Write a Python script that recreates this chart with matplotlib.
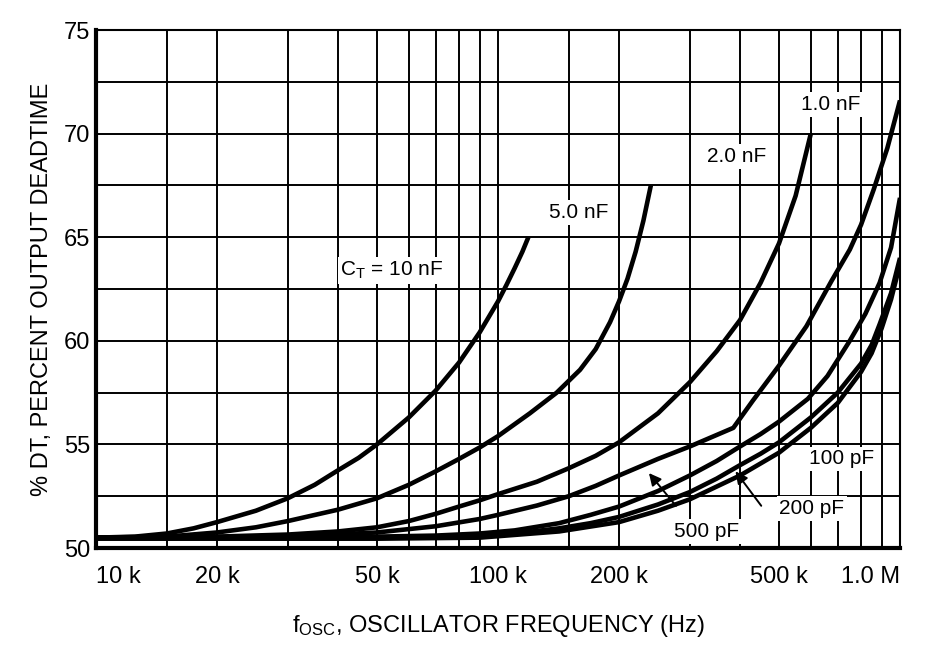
import matplotlib
matplotlib.use("Agg")
import matplotlib.pyplot as plt
from matplotlib.ticker import FixedLocator, NullFormatter

plt.rcParams['font.family'] = ['Liberation Sans Narrow', 'Liberation Sans', 'DejaVu Sans']
plt.rcParams['mathtext.default'] = 'regular'

# frequency in kHz, deadtime in %
f_10n = [10, 12.5, 15, 17.5, 20, 25, 30, 35, 40, 45, 50, 60, 70, 80, 90, 100, 105, 110, 115, 119]
dt_10n = [50.5, 50.55, 50.7, 50.95, 51.25, 51.8, 52.4, 53.05, 53.75, 54.35, 55.0, 56.3, 57.6, 58.95,
          60.4, 61.9, 62.7, 63.5, 64.3, 65.0]

f_5n = [10, 15, 20, 25, 30, 40, 50, 60, 70, 80, 90, 100, 120, 140, 160, 175, 190, 200, 210, 220, 230, 240]
dt_5n = [50.5, 50.55, 50.75, 51.0, 51.3, 51.85, 52.4, 53.05, 53.7, 54.3, 54.85, 55.4, 56.5, 57.5,
         58.6, 59.6, 60.9, 61.9, 63.0, 64.3, 65.8, 67.5]

f_2n = [10, 20, 30, 40, 50, 60, 70, 80, 90, 100, 125, 150, 175, 200, 250, 300, 350, 400, 450, 500, 550, 600]
dt_2n = [50.5, 50.55, 50.65, 50.8, 51.0, 51.3, 51.65, 52.0, 52.3, 52.6, 53.2, 53.85, 54.45, 55.1,
         56.5, 58.0, 59.5, 61.0, 62.8, 64.7, 67.0, 70.0]

f_1n = [10, 30, 50, 70, 90, 100, 125, 150, 175, 200, 250, 300, 385, 430, 500, 585, 676, 750, 800,
        860, 930, 1000]
dt_1n = [50.5, 50.55, 50.75, 51.05, 51.4, 51.6, 52.05, 52.5, 53.0, 53.5, 54.3, 54.9, 55.8, 57.1,
         58.8, 60.7, 62.9, 64.4, 65.6, 67.3, 69.3, 71.6]

f_500p = [10, 50, 70, 90, 110, 142, 170, 200, 250, 300, 350, 400, 450, 500, 590, 660, 750, 820,
          890, 950, 1000]
dt_500p = [50.5, 50.55, 50.6, 50.7, 50.85, 51.2, 51.6, 52.0, 52.75, 53.5, 54.2, 54.9, 55.5, 56.1,
           57.2, 58.3, 60.0, 61.3, 62.8, 64.5, 66.9]

f_200p = [10, 50, 90, 110, 142, 170, 200, 250, 300, 350, 400, 450, 500, 600, 700, 800, 850, 890,
          950, 1000]
dt_200p = [50.5, 50.5, 50.55, 50.7, 50.95, 51.2, 51.5, 52.1, 52.7, 53.35, 54.0, 54.55, 55.1, 56.3,
           57.5, 58.9, 59.8, 60.8, 62.3, 64.0]

f_100p = [10, 50, 90, 142, 200, 250, 300, 400, 500, 600, 700, 800, 850, 900, 950, 1000]
dt_100p = [50.45, 50.45, 50.5, 50.8, 51.25, 51.8, 52.35, 53.5, 54.6, 55.8, 57.0, 58.5, 59.4, 60.6,
           62.0, 63.7]

curves = [(f_10n, dt_10n), (f_5n, dt_5n), (f_2n, dt_2n), (f_1n, dt_1n),
          (f_500p, dt_500p), (f_200p, dt_200p), (f_100p, dt_100p)]

tick_freqs = [10, 20, 50, 100, 200, 500, 1000]
tick_labels = ['10 k', '20 k', '50 k', '100 k', '200 k', '500 k', '1.0 M']
grid_freqs = [15, 30, 40, 60, 70, 80, 90, 150, 300, 400, 600, 700, 800, 900]

fig = plt.figure(figsize=(9.38, 6.48), dpi=100)
ax = fig.add_axes([0.1023, 0.1543, 0.8572, 0.7994])

for f, dt in curves:
    ax.plot(f, dt, color='black', lw=3.3, solid_capstyle='butt', solid_joinstyle='round', zorder=3)

ax.set_xscale('log')
ax.set_xlim(10, 1000)
ax.set_ylim(50, 75)

ax.xaxis.set_major_locator(FixedLocator(tick_freqs))
ax.xaxis.set_minor_locator(FixedLocator(grid_freqs))
ax.xaxis.set_minor_formatter(NullFormatter())
ax.set_xticklabels(tick_labels)
ax.set_yticks([50, 55, 60, 65, 70, 75])
ax.yaxis.set_minor_locator(FixedLocator([52.5, 57.5, 62.5, 67.5, 72.5]))
ax.tick_params(which='both', length=0)
ax.tick_params(axis='x', pad=13, labelsize=17)
ax.tick_params(axis='y', pad=4, labelsize=17)
xl = ax.get_xticklabels()
xl[0].set_ha('left')
xl[-1].set_ha('right')

ax.grid(True, which='both', color='black', lw=1.4, zorder=1)
for side in ['top', 'right']:
    ax.spines[side].set_linewidth(1.5)
for side in ['left', 'bottom']:
    ax.spines[side].set_linewidth(3)

box = dict(facecolor='white', edgecolor='none', pad=2)
ax.text(54.5, 63.4, 'C$_T$ = 10 nF', fontsize=15, ha='center', va='center', bbox=box, zorder=4)
ax.text(159, 66.2, '5.0 nF', fontsize=15, ha='center', va='center', bbox=box, zorder=4)
ax.text(393, 68.9, '2.0 nF', fontsize=15, ha='center', va='center', bbox=box, zorder=4)
ax.text(673, 71.4, '1.0 nF', fontsize=15, ha='center', va='center', bbox=box, zorder=4)
ax.text(717, 54.3, '100 pF', fontsize=15, ha='center', va='center', bbox=box, zorder=4)
ax.text(604, 51.9, '200 pF', fontsize=15, ha='center', va='center', bbox=box, zorder=4)
ax.text(331, 50.8, '500 pF', fontsize=15, ha='center', va='center', bbox=box, zorder=4)

arrow = dict(arrowstyle='-|>', color='black', lw=1.4, mutation_scale=18)
ax.annotate('', xy=(235, 53.72), xytext=(280, 51.93), arrowprops=arrow, zorder=5)
ax.annotate('', xy=(386, 53.81), xytext=(456, 51.93), arrowprops=arrow, zorder=5)

ax.set_ylabel('% DT, PERCENT OUTPUT DEADTIME', fontsize=17, labelpad=8)
ax.set_xlabel('f$_{OSC}$, OSCILLATOR FREQUENCY (Hz)', fontsize=17, labelpad=18)

fig.savefig('out.png', dpi=100)
